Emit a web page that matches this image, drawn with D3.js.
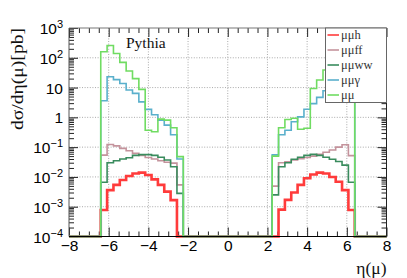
<!DOCTYPE html>
<html>
<head>
<meta charset="utf-8">
<script src="https://cdn.jsdelivr.net/npm/d3@7"></script>
<style>
  body { margin: 0; background: #fff; }
  svg { display: block; }
</style>
</head>
<body>
<div id="chart"></div>
<script>
// bin lower edges (eta), last edge closes the block
const etaLeft = [-6.4, -6.08, -5.76, -5.44, -5.12, -4.8, -4.48, -4.16, -3.84, -3.52, -3.2, -2.88, -2.56];
const etaLeftEnd = -2.24;
const etaRight = [2.24, 2.56, 2.88, 3.2, 3.52, 3.84, 4.16, 4.48, 4.8, 5.12, 5.44, 5.76, 6.08];
const etaRightEnd = 6.4;

// dsigma/deta [pb], left block then right block
const mumuhL = [7.8e-4, 0.0036, 0.0054, 0.0079, 0.0107, 0.013, 0.014, 0.0116, 0.0083, 0.0054, 0.0032, 0.00166, 0];
const mumuhR = [0, 8e-4, 0.0017, 0.003, 0.0054, 0.009, 0.012, 0.014, 0.013, 0.010, 0.0069, 0.0036, 7.8e-4];
const mumuffL = [0.054, 0.123, 0.11, 0.091, 0.076, 0.062, 0.053, 0.045, 0.040, 0.035, 0.031, 0.029, 0.0054];
const mumuffR = [0.0049, 0.030, 0.032, 0.037, 0.041, 0.045, 0.050, 0.057, 0.067, 0.080, 0.10, 0.12, 0.052];
const mumuwwL = [0.0066, 0.030, 0.035, 0.040, 0.044, 0.053, 0.056, 0.056, 0.053, 0.046, 0.037, 0.022, 0.0028];
const mumuwwR = [0.0025, 0.022, 0.030, 0.039, 0.046, 0.053, 0.057, 0.053, 0.046, 0.039, 0.033, 0.025, 0.0066];
const mumugL = [3.6, 23, 18.5, 13.7, 8.3, 6.4, 3.3, 1.85, 1.23, 0.81, 0.55, 0.26, 0.04];
const mumugR = [0.055, 0.26, 0.37, 0.71, 1.04, 1.87, 2.9, 4.7, 7.8, 12, 17, 22, 3.5];
const mumuL = [160, 260, 140, 70, 36, 20, 8.7, 0.37, 0.33, 0.87, 0.81, 0.45, 0.048];
const mumuR = [0.05, 0.45, 0.85, 0.93, 0.40, 0.43, 9.3, 18, 39, 70, 140, 250, 170];

const seriesNames = ["μμh", "μμff", "μμww", "μμγ", "μμ"];
const seriesColors = ["#ff3b3b", "#c4939c", "#3a8c5e", "#5ab0cc", "#70dc62"];
const seriesWidths = [2.6, 1.6, 1.6, 1.6, 1.6];
const seriesLeft = [mumuhL, mumuffL, mumuwwL, mumugL, mumuL];
const seriesRight = [mumuhR, mumuffR, mumuwwR, mumugR, mumuR];

const xTickValues = [-8, -6, -4, -2, 0, 2, 4, 6, 8];
const xTickLabels = ["−8", "−6", "−4", "−2", "0", "2", "4", "6", "8"];
const yTickValues = [1e3, 1e2, 10, 1, 0.1, 0.01, 1e-3, 1e-4];
const yTickExps = ["3", "2", "", "", "−1", "−2", "−3", "−4"];
const yTickBases = ["10", "10", "10", "1", "10", "10", "10", "10"];

const W = 407, H = 278;
const pd = { left: 69, right: 386.5, top: 28, bottom: 236.5 };
const floorVal = 1e-4;
const serif = "'Liberation Serif', 'Times New Roman', serif";
const sans = "'Liberation Sans', Arial, sans-serif";

const x = d3.scaleLinear().domain([-8, 8]).range([pd.left, pd.right]);
const y = d3.scaleLog().domain([1e-4, 1e3]).range([pd.bottom, pd.top]);

const svg = d3.select("#chart").append("svg")
  .attr("width", W).attr("height", H)
  .style("font-family", sans);

svg.append("rect").attr("width", W).attr("height", H).attr("fill", "#fff");

// grid
const grid = svg.append("g").attr("stroke", "#a0a0a0").attr("stroke-dasharray", "1,1.6").attr("stroke-width", 0.9);
xTickValues.slice(1, -1).forEach(v => {
  grid.append("line").attr("x1", x(v)).attr("x2", x(v)).attr("y1", pd.top).attr("y2", pd.bottom);
});
yTickValues.slice(1, -1).forEach(v => {
  grid.append("line").attr("x1", pd.left).attr("x2", pd.right).attr("y1", y(v)).attr("y2", y(v));
});

// minor tick positions
const xMinor = d3.range(-8, 8.001, 0.5).filter(v => Math.abs(v % 2) > 1e-6);
const yMinor = [];
[1e-4, 1e-3, 1e-2, 1e-1, 1, 10, 100].forEach(d => { for (let k = 2; k <= 9; k++) yMinor.push(d * k); });

function styleAxis(g) {
  g.select(".domain").remove();
  g.selectAll(".tick line").attr("stroke", "#222");
}

// bottom
svg.append("g").attr("transform", `translate(0,${pd.bottom})`)
  .call(d3.axisBottom(x).tickValues(xTickValues).tickSize(-9).tickPadding(3)
    .tickFormat((d, i) => xTickLabels[i]))
  .call(styleAxis)
  .call(g => g.selectAll("text").attr("font-size", 15.5).attr("fill", "#000").attr("font-family", sans));
svg.append("g").attr("transform", `translate(0,${pd.bottom})`)
  .call(d3.axisBottom(x).tickValues(xMinor).tickSize(-5).tickFormat(""))
  .call(styleAxis);
// top
svg.append("g").attr("transform", `translate(0,${pd.top})`)
  .call(d3.axisTop(x).tickValues(xTickValues).tickSize(-9).tickFormat(""))
  .call(styleAxis);
svg.append("g").attr("transform", `translate(0,${pd.top})`)
  .call(d3.axisTop(x).tickValues(xMinor).tickSize(-5).tickFormat(""))
  .call(styleAxis);
// left
const yLeft = svg.append("g").attr("transform", `translate(${pd.left},0)`)
  .call(d3.axisLeft(y).tickValues(yTickValues).tickSize(-9).tickPadding(6).tickFormat(""))
  .call(styleAxis);
svg.append("g").attr("transform", `translate(${pd.left},0)`)
  .call(d3.axisLeft(y).tickValues(yMinor).tickSize(-5).tickFormat(""))
  .call(styleAxis);
// right
svg.append("g").attr("transform", `translate(${pd.right},0)`)
  .call(d3.axisRight(y).tickValues(yTickValues).tickSize(-9).tickFormat(""))
  .call(styleAxis);
svg.append("g").attr("transform", `translate(${pd.right},0)`)
  .call(d3.axisRight(y).tickValues(yMinor).tickSize(-5).tickFormat(""))
  .call(styleAxis);

// y tick labels with superscripts
yLeft.selectAll(".tick text").each(function(d, i) {
  const t = d3.select(this).text(null).attr("font-size", 15.5).attr("fill", "#000")
    .attr("dy", "0.36em").attr("x", -6).attr("font-family", sans);
  t.append("tspan").text(yTickBases[i]);
  if (yTickExps[i]) {
    t.append("tspan").attr("dy", "-0.55em").attr("font-size", 11).text(yTickExps[i]);
  }
});

// histograms
const line = d3.line().x(d => x(d[0])).y(d => y(Math.max(d[1], floorVal))).curve(d3.curveStepAfter);
seriesNames.forEach((name, s) => {
  const pts = [[-8, 0]];
  etaLeft.forEach((e, i) => pts.push([e, seriesLeft[s][i]]));
  pts.push([etaLeftEnd, 0]);
  etaRight.forEach((e, i) => pts.push([e, seriesRight[s][i]]));
  pts.push([etaRightEnd, 0]);
  pts.push([8, 0]);
  svg.append("path").datum(pts)
    .attr("d", line)
    .attr("fill", "none")
    .attr("stroke", seriesColors[s])
    .attr("stroke-width", seriesWidths[s]);
});

// frame
svg.append("line").attr("x1", pd.left).attr("x2", pd.right).attr("y1", pd.top).attr("y2", pd.top).attr("stroke", "#777");
svg.append("line").attr("x1", pd.left).attr("x2", pd.left).attr("y1", pd.top).attr("y2", pd.bottom).attr("stroke", "#555");
svg.append("line").attr("x1", pd.right).attr("x2", pd.right).attr("y1", pd.top).attr("y2", pd.bottom).attr("stroke", "#222");
svg.append("line").attr("x1", pd.left).attr("x2", pd.right).attr("y1", pd.bottom).attr("y2", pd.bottom).attr("stroke", "#000").attr("stroke-width", 1.2);

// texts
svg.append("text").attr("x", 126).attr("y", 48)
  .attr("font-family", serif).attr("font-size", 15.5).attr("fill", "#111")
  .text("Pythia");

svg.append("text").attr("transform", "translate(23,79) rotate(-90)")
  .attr("text-anchor", "middle")
  .attr("font-family", serif).attr("font-size", 16).attr("fill", "#111")
  .attr("textLength", 102).attr("lengthAdjust", "spacingAndGlyphs")
  .text("dσ/dη(μ)[pb]");

svg.append("text").attr("x", 386.5).attr("y", 274)
  .attr("text-anchor", "end")
  .attr("font-family", serif).attr("font-size", 17.5).attr("fill", "#111")
  .text("η(μ)");

// legend
const lg = svg.append("g");
lg.append("rect").attr("x", 325.5).attr("y", pd.top).attr("width", pd.right - 325.5).attr("height", 74.5)
  .attr("fill", "#fff").attr("stroke", "#666").attr("stroke-width", 1);
seriesNames.forEach((name, s) => {
  const cy = 35 + s * 15;
  lg.append("line").attr("x1", 327.5).attr("x2", 339).attr("y1", cy).attr("y2", cy)
    .attr("stroke", seriesColors[s]).attr("stroke-width", 1.6);
  lg.append("text").attr("x", 341).attr("y", cy).attr("dy", "0.32em")
    .attr("font-family", serif).attr("font-size", 12.5)
    .attr("fill", "#333")
    .text(name);
});
</script>
</body>
</html>
